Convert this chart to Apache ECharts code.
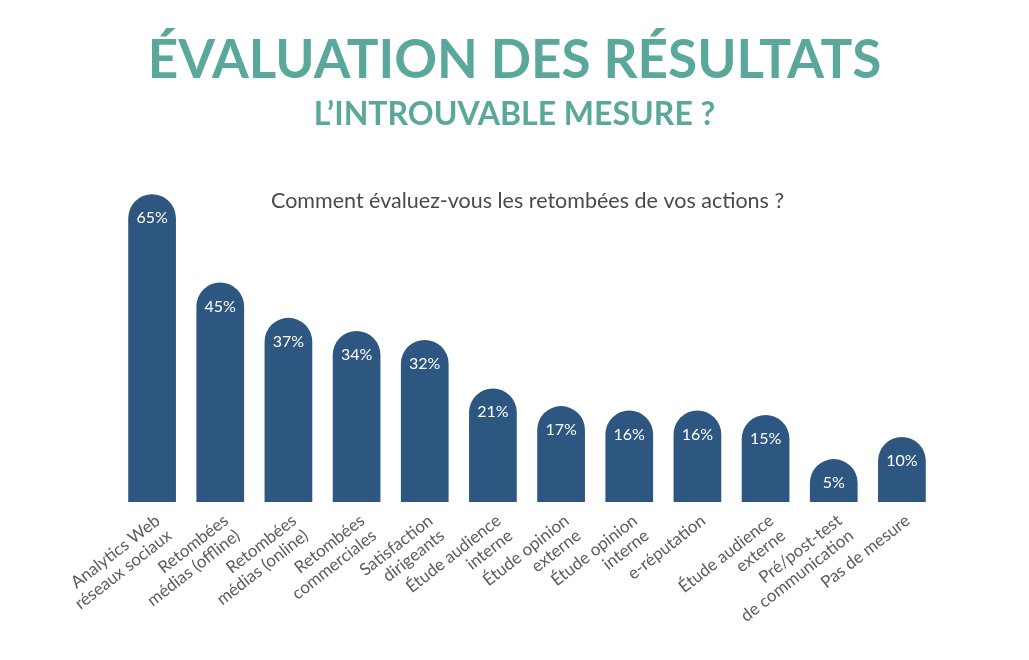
<!DOCTYPE html>
<html>
<head>
<meta charset="utf-8">
<script src="https://cdn.jsdelivr.net/npm/echarts@6/dist/echarts.min.js"></script>
<style>
  html, body { margin: 0; padding: 0; background: #fff; }
  #chart { width: 1029px; height: 660px; }
</style>
</head>
<body>
<div id="chart"></div>
<script>
// data
const categories = [
  'Analytics Web\nréseaux sociaux',
  'Retombées\nmédias (offline)',
  'Retombées\nmédias (online)',
  'Retombées\ncommerciales',
  'Satisfaction\ndirigeants',
  'Étude audience\ninterne',
  'Étude opinion\nexterne',
  'Étude opinion\ninterne',
  'e-réputation',
  'Étude audience\nexterne',
  'Pré/post-test\nde communication',
  'Pas de mesure'
];
const values = [65, 45, 37, 34, 32, 21, 17, 16, 16, 15, 5, 10];

const teal = '#5aa89b';
const barColor = '#2d5780';
const font = 'Lato';

const chart = echarts.init(document.getElementById('chart'));

chart.setOption({
  animation: false,
  title: [
    {
      text: 'ÉVALUATION DES RÉSULTATS',
      left: 'center',
      top: 29,
      textStyle: { color: teal, fontFamily: font, fontWeight: 'bold', fontSize: 53 }
    },
    {
      text: 'L’INTROUVABLE MESURE ?',
      left: 'center',
      top: 94,
      textStyle: { color: teal, fontFamily: font, fontWeight: 'bold', fontSize: 32 }
    },
    {
      text: 'Comment évaluez-vous les retombées de vos actions ?',
      left: 266,
      top: 185,
      textStyle: { color: '#4a4a4a', fontFamily: font, fontWeight: 'normal', fontSize: 21.5 }
    }
  ],
  grid: { left: 118, right: 93, top: 193, bottom: 158 },
  xAxis: {
    type: 'category',
    data: categories,
    axisLine: { show: false },
    axisTick: { show: false },
    axisLabel: {
      interval: 0,
      rotate: 38,
      margin: 9,
      align: 'right',
      verticalAlign: 'top',
      color: '#5c5c5c',
      fontFamily: font,
      fontSize: 17,
      lineHeight: 19
    }
  },
  yAxis: {
    type: 'value',
    min: 0,
    max: 70,
    show: false,
    splitLine: { show: false }
  },
  series: [{
    type: 'custom',
    data: values.map((v, i) => [i, v]),
    encode: { x: 0, y: 1 },
    renderItem: function (params, api) {
      const idx = api.value(0);
      const base = api.coord([idx, 0]);
      const top = api.coord([idx, api.value(1)]);
      const w = api.size([1, 0])[0] * 0.7;
      const r = w / 2;
      const cy = top[1] + 3; // centre of the rounded cap
      return {
        type: 'group',
        children: [
          {
            type: 'rect',
            shape: { x: base[0] - r, y: cy - r, width: w, height: base[1] - cy + r, r: [r, r, 0, 0] },
            style: { fill: barColor }
          },
          {
            type: 'text',
            x: base[0],
            y: cy,
            style: {
              text: api.value(1) + '%',
              fill: '#fff',
              font: '16px Lato',
              align: 'center',
              verticalAlign: 'middle'
            }
          }
        ]
      };
    }
  }]
});
</script>
</body>
</html>
